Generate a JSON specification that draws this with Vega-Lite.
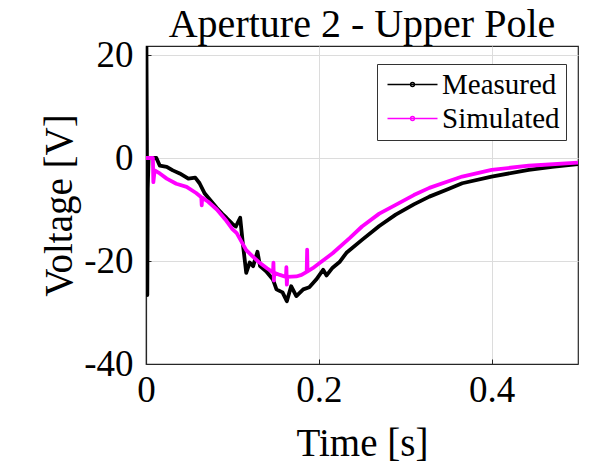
{
  "$schema": "https://vega.github.io/schema/vega-lite/v6.json",
  "width": 432,
  "height": 318,
  "autosize": {"type": "none"},
  "padding": {"left": 146, "top": 46, "right": 12, "bottom": 101},
  "background": "white",
  "title": {"text": "Aperture 2 - Upper Pole", "font": "Liberation Serif", "fontSize": 40, "fontWeight": "normal", "color": "#000000", "offset": -9, "anchor": "middle"},
  "config": {"view": {"stroke": "#262626", "strokeWidth": 1.2}, "font": "Liberation Serif"},
  "data": {"values": [
    {"s": "Measured", "i": 1, "t": 0, "v": 0},
    {"s": "Measured", "i": 2, "t": 0.0005, "v": 21.75},
    {"s": "Measured", "i": 3, "t": 0.001, "v": 5},
    {"s": "Measured", "i": 4, "t": 0.0015, "v": -26.6},
    {"s": "Measured", "i": 5, "t": 0.002, "v": -6},
    {"s": "Measured", "i": 6, "t": 0.003, "v": 0},
    {"s": "Measured", "i": 7, "t": 0.012, "v": 0},
    {"s": "Measured", "i": 8, "t": 0.016, "v": -1.5},
    {"s": "Measured", "i": 9, "t": 0.024, "v": -1.7},
    {"s": "Measured", "i": 10, "t": 0.031, "v": -2.4},
    {"s": "Measured", "i": 11, "t": 0.039, "v": -3.0},
    {"s": "Measured", "i": 12, "t": 0.049, "v": -4.0},
    {"s": "Measured", "i": 13, "t": 0.057, "v": -3.8},
    {"s": "Measured", "i": 14, "t": 0.062, "v": -4.9},
    {"s": "Measured", "i": 15, "t": 0.068, "v": -6.9},
    {"s": "Measured", "i": 16, "t": 0.075, "v": -8.3},
    {"s": "Measured", "i": 17, "t": 0.082, "v": -9.7},
    {"s": "Measured", "i": 18, "t": 0.088, "v": -10.8},
    {"s": "Measured", "i": 19, "t": 0.093, "v": -11.6},
    {"s": "Measured", "i": 20, "t": 0.1, "v": -12.8},
    {"s": "Measured", "i": 21, "t": 0.104, "v": -13.3},
    {"s": "Measured", "i": 22, "t": 0.109, "v": -11.6},
    {"s": "Measured", "i": 23, "t": 0.112, "v": -16.5},
    {"s": "Measured", "i": 24, "t": 0.116, "v": -22.3},
    {"s": "Measured", "i": 25, "t": 0.12, "v": -20.3},
    {"s": "Measured", "i": 26, "t": 0.124, "v": -21},
    {"s": "Measured", "i": 27, "t": 0.129, "v": -18.2},
    {"s": "Measured", "i": 28, "t": 0.132, "v": -21},
    {"s": "Measured", "i": 29, "t": 0.139, "v": -22},
    {"s": "Measured", "i": 30, "t": 0.147, "v": -23.6},
    {"s": "Measured", "i": 31, "t": 0.151, "v": -25.5},
    {"s": "Measured", "i": 32, "t": 0.158, "v": -26.1},
    {"s": "Measured", "i": 33, "t": 0.163, "v": -27.8},
    {"s": "Measured", "i": 34, "t": 0.168, "v": -24.9},
    {"s": "Measured", "i": 35, "t": 0.174, "v": -26.8},
    {"s": "Measured", "i": 36, "t": 0.182, "v": -25.5},
    {"s": "Measured", "i": 37, "t": 0.189, "v": -25.1},
    {"s": "Measured", "i": 38, "t": 0.197, "v": -23.6},
    {"s": "Measured", "i": 39, "t": 0.205, "v": -21.7},
    {"s": "Measured", "i": 40, "t": 0.209, "v": -22.8},
    {"s": "Measured", "i": 41, "t": 0.216, "v": -21.3},
    {"s": "Measured", "i": 42, "t": 0.224, "v": -20.2},
    {"s": "Measured", "i": 43, "t": 0.232, "v": -18.4},
    {"s": "Measured", "i": 44, "t": 0.25, "v": -15.9},
    {"s": "Measured", "i": 45, "t": 0.27, "v": -13.2},
    {"s": "Measured", "i": 46, "t": 0.289, "v": -11},
    {"s": "Measured", "i": 47, "t": 0.31, "v": -9},
    {"s": "Measured", "i": 48, "t": 0.328, "v": -7.5},
    {"s": "Measured", "i": 49, "t": 0.35, "v": -6},
    {"s": "Measured", "i": 50, "t": 0.366, "v": -4.9},
    {"s": "Measured", "i": 51, "t": 0.4, "v": -3.6},
    {"s": "Measured", "i": 52, "t": 0.443, "v": -2.3},
    {"s": "Measured", "i": 53, "t": 0.47, "v": -1.7},
    {"s": "Measured", "i": 54, "t": 0.5, "v": -1.2},
    {"s": "Simulated", "i": 1, "t": 0, "v": 0},
    {"s": "Simulated", "i": 2, "t": 0.008, "v": 0},
    {"s": "Simulated", "i": 3, "t": 0.0085, "v": -4.7},
    {"s": "Simulated", "i": 4, "t": 0.01, "v": -2.4},
    {"s": "Simulated", "i": 5, "t": 0.016, "v": -3.0},
    {"s": "Simulated", "i": 6, "t": 0.024, "v": -4.0},
    {"s": "Simulated", "i": 7, "t": 0.035, "v": -5.0},
    {"s": "Simulated", "i": 8, "t": 0.047, "v": -5.6},
    {"s": "Simulated", "i": 9, "t": 0.058, "v": -6.8},
    {"s": "Simulated", "i": 10, "t": 0.064, "v": -7.6},
    {"s": "Simulated", "i": 11, "t": 0.0645, "v": -9.2},
    {"s": "Simulated", "i": 12, "t": 0.065, "v": -7.7},
    {"s": "Simulated", "i": 13, "t": 0.072, "v": -8.5},
    {"s": "Simulated", "i": 14, "t": 0.082, "v": -10},
    {"s": "Simulated", "i": 15, "t": 0.093, "v": -12.2},
    {"s": "Simulated", "i": 16, "t": 0.1, "v": -13.8},
    {"s": "Simulated", "i": 17, "t": 0.105, "v": -14.6},
    {"s": "Simulated", "i": 18, "t": 0.116, "v": -17.9},
    {"s": "Simulated", "i": 19, "t": 0.124, "v": -19.2},
    {"s": "Simulated", "i": 20, "t": 0.132, "v": -20.4},
    {"s": "Simulated", "i": 21, "t": 0.14, "v": -21.4},
    {"s": "Simulated", "i": 22, "t": 0.147, "v": -22.2},
    {"s": "Simulated", "i": 23, "t": 0.1475, "v": -20.3},
    {"s": "Simulated", "i": 24, "t": 0.148, "v": -23.8},
    {"s": "Simulated", "i": 25, "t": 0.1485, "v": -22.3},
    {"s": "Simulated", "i": 26, "t": 0.155, "v": -22.7},
    {"s": "Simulated", "i": 27, "t": 0.162, "v": -23.1},
    {"s": "Simulated", "i": 28, "t": 0.1625, "v": -21.2},
    {"s": "Simulated", "i": 29, "t": 0.163, "v": -24.6},
    {"s": "Simulated", "i": 30, "t": 0.1635, "v": -23.1},
    {"s": "Simulated", "i": 31, "t": 0.174, "v": -23},
    {"s": "Simulated", "i": 32, "t": 0.18, "v": -22.7},
    {"s": "Simulated", "i": 33, "t": 0.186, "v": -22.1},
    {"s": "Simulated", "i": 34, "t": 0.1865, "v": -17.8},
    {"s": "Simulated", "i": 35, "t": 0.187, "v": -22},
    {"s": "Simulated", "i": 36, "t": 0.193, "v": -21.4},
    {"s": "Simulated", "i": 37, "t": 0.201, "v": -20.4},
    {"s": "Simulated", "i": 38, "t": 0.216, "v": -18.5},
    {"s": "Simulated", "i": 39, "t": 0.236, "v": -15.5},
    {"s": "Simulated", "i": 40, "t": 0.25, "v": -13.3},
    {"s": "Simulated", "i": 41, "t": 0.27, "v": -10.8},
    {"s": "Simulated", "i": 42, "t": 0.289, "v": -9.1},
    {"s": "Simulated", "i": 43, "t": 0.31, "v": -7.2},
    {"s": "Simulated", "i": 44, "t": 0.328, "v": -5.8},
    {"s": "Simulated", "i": 45, "t": 0.35, "v": -4.5},
    {"s": "Simulated", "i": 46, "t": 0.366, "v": -3.6},
    {"s": "Simulated", "i": 47, "t": 0.4, "v": -2.3},
    {"s": "Simulated", "i": 48, "t": 0.443, "v": -1.5},
    {"s": "Simulated", "i": 49, "t": 0.5, "v": -0.9}
  ]},
  "mark": {"type": "line", "strokeWidth": 3.8, "clip": true, "strokeJoin": "round"},
  "encoding": {
    "x": {
      "field": "t", "type": "quantitative",
      "scale": {"domain": [0, 0.5], "nice": false, "zero": false},
      "axis": {
        "title": "Time [s]", "values": [0, 0.2, 0.4], "format": "~g",
        "domainColor": "#262626", "domainWidth": 1.2,
        "tickColor": "#262626", "tickSize": -5, "tickWidth": 1,
        "grid": true, "gridColor": "#dcdcdc", "gridWidth": 1,
        "labelFont": "Liberation Serif", "labelFontSize": 37, "labelColor": "#000000", "labelPadding": 13,
        "labelFlush": false, "labelOverlap": false,
        "titleFont": "Liberation Serif", "titleFontSize": 39, "titleFontWeight": "normal", "titleColor": "#000000", "titlePadding": 16
      }
    },
    "y": {
      "field": "v", "type": "quantitative",
      "scale": {"domain": [-40, 21.75], "nice": false, "zero": false},
      "axis": {
        "title": "Voltage [V]", "values": [-40, -20, 0, 20], "format": "d",
        "labelExpr": "replace(datum.label, '\u2212', '-')",
        "domainColor": "#262626", "domainWidth": 1.2,
        "tickColor": "#262626", "tickSize": -5, "tickWidth": 1,
        "grid": true, "gridColor": "#dcdcdc", "gridWidth": 1,
        "labelFont": "Liberation Serif", "labelFontSize": 37, "labelColor": "#000000", "labelPadding": 18,
        "labelFlush": false, "labelOverlap": false,
        "titleFont": "Liberation Serif", "titleFontSize": 39, "titleFontWeight": "normal", "titleColor": "#000000", "titlePadding": 4
      }
    },
    "color": {
      "field": "s", "type": "nominal",
      "scale": {"domain": ["Measured", "Simulated"], "range": ["#000000", "#ff00ff"]},
      "legend": {
        "title": null, "orient": "none", "legendX": 231, "legendY": 18, "direction": "vertical",
        "labelFont": "Liberation Serif", "labelFontSize": 29, "labelColor": "#000000", "labelOffset": 15,
        "labelExpr": "datum.label + '\u00a0\u00a0\u00a0'",
        "symbolType": "M-2.5,0H2.5M-0.2,0A0.2,0.2 0 1,1 0.2,0A0.2,0.2 0 1,1 -0.2,0",
        "symbolSize": 400, "symbolStrokeWidth": 1.3, "symbolOffset": 15,
        "strokeColor": "#333333", "fillColor": "white", "padding": 6, "rowPadding": 4
      }
    },
    "order": {"field": "i", "type": "quantitative"}
  }
}
